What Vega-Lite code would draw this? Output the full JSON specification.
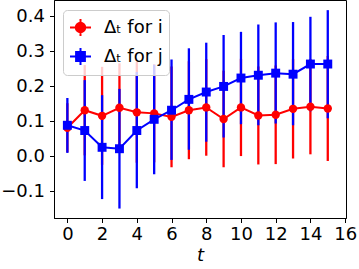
{
  "$schema": "https://vega.github.io/schema/vega-lite/v6.json",
  "autosize": "none",
  "width": 292,
  "height": 218,
  "padding": {"left": 54, "top": 0, "right": 13, "bottom": 51},
  "background": "white",
  "config": {
    "view": {"stroke": "black", "strokeWidth": 1},
    "font": "DejaVu Sans",
    "axis": {
      "grid": false,
      "domainColor": "black",
      "domainWidth": 1,
      "tickColor": "black",
      "tickWidth": 1,
      "tickSize": 4.5,
      "labelFont": "DejaVu Sans",
      "labelFontSize": 18,
      "labelColor": "black",
      "labelPadding": 4,
      "labelFlush": false,
      "labelOverlap": false,
      "labelBound": false
    }
  },
  "data": {
    "values": [
      {"t": 0, "s": "i", "m": 0.081, "lo": 0.011, "hi": 0.151},
      {"t": 1, "s": "i", "m": 0.131, "lo": 0.002, "hi": 0.260},
      {"t": 2, "s": "i", "m": 0.115, "lo": -0.025, "hi": 0.255},
      {"t": 3, "s": "i", "m": 0.138, "lo": 0.011, "hi": 0.265},
      {"t": 4, "s": "i", "m": 0.125, "lo": -0.019, "hi": 0.269},
      {"t": 5, "s": "i", "m": 0.122, "lo": -0.018, "hi": 0.262},
      {"t": 6, "s": "i", "m": 0.112, "lo": -0.032, "hi": 0.256},
      {"t": 7, "s": "i", "m": 0.131, "lo": -0.009, "hi": 0.271},
      {"t": 8, "s": "i", "m": 0.139, "lo": 0.001, "hi": 0.277},
      {"t": 9, "s": "i", "m": 0.106, "lo": -0.032, "hi": 0.244},
      {"t": 10, "s": "i", "m": 0.139, "lo": 0.0, "hi": 0.278},
      {"t": 11, "s": "i", "m": 0.116, "lo": -0.024, "hi": 0.256},
      {"t": 12, "s": "i", "m": 0.118, "lo": -0.023, "hi": 0.259},
      {"t": 13, "s": "i", "m": 0.135, "lo": -0.007, "hi": 0.277},
      {"t": 14, "s": "i", "m": 0.141, "lo": 0.005, "hi": 0.277},
      {"t": 15, "s": "i", "m": 0.136, "lo": -0.014, "hi": 0.286},
      {"t": 0, "s": "j", "m": 0.088, "lo": 0.009, "hi": 0.166},
      {"t": 1, "s": "j", "m": 0.073, "lo": -0.071, "hi": 0.217},
      {"t": 2, "s": "j", "m": 0.025, "lo": -0.123, "hi": 0.174},
      {"t": 3, "s": "j", "m": 0.021, "lo": -0.150, "hi": 0.192},
      {"t": 4, "s": "j", "m": 0.073, "lo": -0.092, "hi": 0.240},
      {"t": 5, "s": "j", "m": 0.105, "lo": -0.052, "hi": 0.261},
      {"t": 6, "s": "j", "m": 0.131, "lo": -0.011, "hi": 0.276},
      {"t": 7, "s": "j", "m": 0.162, "lo": 0.018, "hi": 0.308},
      {"t": 8, "s": "j", "m": 0.183, "lo": 0.041, "hi": 0.324},
      {"t": 9, "s": "j", "m": 0.199, "lo": 0.053, "hi": 0.346},
      {"t": 10, "s": "j", "m": 0.223, "lo": 0.091, "hi": 0.355},
      {"t": 11, "s": "j", "m": 0.231, "lo": 0.088, "hi": 0.376},
      {"t": 12, "s": "j", "m": 0.237, "lo": 0.093, "hi": 0.382},
      {"t": 13, "s": "j", "m": 0.234, "lo": 0.088, "hi": 0.383},
      {"t": 14, "s": "j", "m": 0.263, "lo": 0.128, "hi": 0.398},
      {"t": 15, "s": "j", "m": 0.263, "lo": 0.108, "hi": 0.417}
    ]
  },
  "encoding": {
    "x": {
      "field": "t",
      "type": "quantitative",
      "scale": {"domain": [-0.77, 16.05], "nice": false, "zero": false},
      "axis": {
        "values": [0, 2, 4, 6, 8, 10, 12, 14, 16],
        "format": "d",
        "labelPadding": 3,
        "title": "t",
        "titleFont": "DejaVu Sans",
        "titleFontStyle": "italic",
        "titleFontWeight": "normal",
        "titleFontSize": 18,
        "titleColor": "black",
        "titlePadding": 3
      }
    },
    "y": {
      "field": "m",
      "type": "quantitative",
      "scale": {"domain": [-0.177, 0.446], "nice": false, "zero": false},
      "axis": {"values": [-0.1, 0, 0.1, 0.2, 0.3, 0.4], "format": ".1f", "title": null, "labelPadding": 5}
    },
    "color": {
      "field": "s",
      "type": "nominal",
      "scale": {"domain": ["i", "j"], "range": ["#ff0000", "#0000ff"]},
      "legend": {
        "title": null,
        "orient": "none",
        "legendX": 9,
        "legendY": 10,
        "direction": "vertical",
        "padding": 6,
        "fillColor": "rgba(255,255,255,0.8)",
        "strokeColor": "#cccccc",
        "cornerRadius": 4,
        "labelExpr": "'Δₜ for ' + datum.label",
        "labelFont": "DejaVu Sans",
        "labelFontSize": 18,
        "labelColor": "black",
        "labelOffset": 12,
        "symbolSize": 441,
        "symbolStrokeWidth": 2,
        "rowPadding": 4,
        "symbolType": "circle",
        "encode": {
          "symbols": {
            "update": {
              "shape": {"signal": "datum.value === 'i' ? 'M-1,0H1M0,-0.8V0.8M0.45,0A0.45,0.45,0,1,1,-0.45,0A0.45,0.45,0,1,1,0.45,0Z' : 'M-1,0H1M0,-0.8V0.8M-0.42,-0.42H0.42V0.42H-0.42Z'"},
              "fill": {"signal": "datum.value === 'i' ? '#ff0000' : '#0000ff'"},
              "stroke": {"signal": "datum.value === 'i' ? '#ff0000' : '#0000ff'"},
              "fillOpacity": {"value": 1},
              "strokeWidth": {"value": 2}
            }
          }
        }
      }
    }
  },
  "layer": [
    {
      "transform": [{"filter": "datum.s === 'i'"}],
      "mark": {"type": "rule", "strokeWidth": 2.3},
      "encoding": {"y": {"field": "lo", "type": "quantitative"}, "y2": {"field": "hi"}}
    },
    {
      "transform": [{"filter": "datum.s === 'j'"}],
      "mark": {"type": "rule", "strokeWidth": 2.3},
      "encoding": {"y": {"field": "lo", "type": "quantitative"}, "y2": {"field": "hi"}}
    },
    {
      "transform": [{"filter": "datum.s === 'i'"}],
      "layer": [
        {"mark": {"type": "line", "strokeWidth": 2}, "encoding": {}},
        {"mark": {"type": "point", "filled": true, "opacity": 1, "size": 70, "shape": "circle"}, "encoding": {}}
      ]
    },
    {
      "transform": [{"filter": "datum.s === 'j'"}],
      "layer": [
        {"mark": {"type": "line", "strokeWidth": 2}, "encoding": {}},
        {"mark": {"type": "point", "filled": true, "opacity": 1, "size": 80, "shape": "square"}, "encoding": {}}
      ]
    }
  ]
}
